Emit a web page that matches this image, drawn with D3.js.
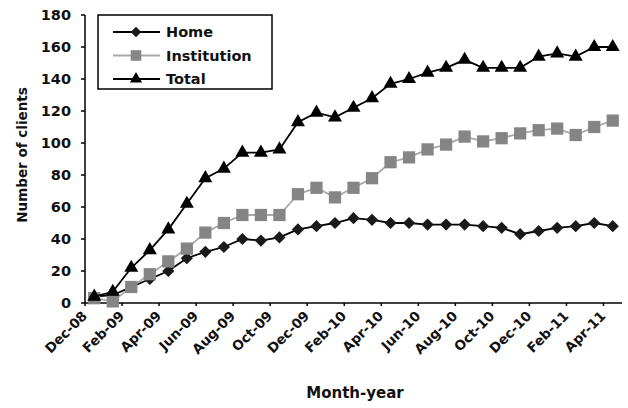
<!DOCTYPE html>
<html><head><meta charset="utf-8">
<script src="https://cdn.jsdelivr.net/npm/d3@7"></script>
<style>body{margin:0;background:#fff}svg{display:block}text{font-family:"DejaVu Sans",sans-serif;font-weight:bold;fill:#111}</style>
</head><body><div id="chart"></div>
<script>
const months = ["Dec-08","Jan-09","Feb-09","Mar-09","Apr-09","May-09","Jun-09","Jul-09","Aug-09","Sep-09","Oct-09","Nov-09","Dec-09","Jan-10","Feb-10","Mar-10","Apr-10","May-10","Jun-10","Jul-10","Aug-10","Sep-10","Oct-10","Nov-10","Dec-10","Jan-11","Feb-11","Mar-11","Apr-11"];
const home = [4,5,10,15,20,28,32,35,40,39,41,46,48,50,53,52,50,50,49,49,49,48,47,43,45,47,48,50,48];
const institution = [3,1,10,18,26,34,44,50,55,55,55,68,72,66,72,78,88,91,96,99,104,101,103,106,108,109,105,110,114];
const total = [4,7,22,33,46,62,78,84,94,94,96,113,119,116,122,128,137,140,144,147,152,147,147,147,154,156,154,160,160];
const yTicks = [0,20,40,60,80,100,120,140,160,180];
const seriesNames = ["Home","Institution","Total"];

const W = 628, H = 408;
const svg = d3.select("#chart").append("svg").attr("width", W).attr("height", H);
const x = d3.scaleBand().domain(months).range([85, 622]);
const y = d3.scaleLinear().domain([0, 180]).range([303, 15]);
const cx = m => x(m) + x.bandwidth() / 2;

// y axis
svg.append("line").attr("x1",85).attr("x2",85).attr("y1",y(180)).attr("y2",y(0)).attr("stroke","#000").attr("stroke-width",1.5);
yTicks.forEach(t => {
  svg.append("line").attr("x1",81).attr("x2",85).attr("y1",y(t)).attr("y2",y(t)).attr("stroke","#000").attr("stroke-width",1.5);
  svg.append("text").attr("x",71).attr("y",y(t)).attr("dy","0.36em").attr("text-anchor","end").attr("font-size",14.5).text(t);
});
// x axis
svg.append("line").attr("x1",85).attr("x2",622).attr("y1",303).attr("y2",303).attr("stroke","#000").attr("stroke-width",1.5);
months.forEach((m,i) => {
  if (i % 2 === 0) {
    svg.append("line").attr("x1",x(m)).attr("x2",x(m)).attr("y1",303).attr("y2",306).attr("stroke","#000").attr("stroke-width",1.5);
    svg.append("text").attr("transform",`translate(${cx(m)-12},${311}) rotate(-45)`).attr("text-anchor","end").attr("dy","0.6em").attr("font-size",13.5).text(m);
  }
});
svg.append("text").attr("x",355).attr("y",398).attr("text-anchor","middle").attr("font-size",15).text("Month-year");
svg.append("text").attr("transform","translate(27,155) rotate(-90)").attr("text-anchor","middle").attr("font-size",13.5).text("Number of clients");

const styles = {
  Home: {line:"#000", fill:"#1a1a1a", sym:d3.symbolSquare, rot:45, size:75, data:home},
  Institution: {line:"#a8a8a8", fill:"#858585", sym:d3.symbolSquare, rot:0, size:150, data:institution},
  Total: {line:"#000", fill:"#000", sym:d3.symbolTriangle, rot:0, size:85, data:total}
};
const line = d3.line().x((d,i) => cx(months[i])).y(d => y(d));
seriesNames.forEach(n => {
  const s = styles[n];
  svg.append("path").datum(s.data).attr("d", line).attr("fill","none").attr("stroke",s.line).attr("stroke-width",1.8);
  svg.selectAll(null).data(s.data).enter().append("path")
    .attr("d", d3.symbol().type(s.sym).size(s.size))
    .attr("transform",(d,i) => `translate(${cx(months[i])},${y(d)}) rotate(${s.rot})`)
    .attr("fill", s.fill);
});

// legend
svg.append("rect").attr("x",98).attr("y",15).attr("width",174).attr("height",74).attr("fill","#fff").attr("stroke","#000").attr("stroke-width",1.5);
seriesNames.forEach((n,i) => {
  const s = styles[n], ly = 32 + i*23.5;
  svg.append("line").attr("x1",113).attr("x2",160).attr("y1",ly).attr("y2",ly).attr("stroke",s.line).attr("stroke-width",1.8);
  svg.append("path").attr("d", d3.symbol().type(s.sym).size(s.size*0.75)).attr("transform",`translate(136,${ly}) rotate(${s.rot})`).attr("fill",s.fill);
  svg.append("text").attr("x",166).attr("y",ly).attr("dy","0.36em").attr("font-size",14.5).text(n);
});
</script></body></html>
